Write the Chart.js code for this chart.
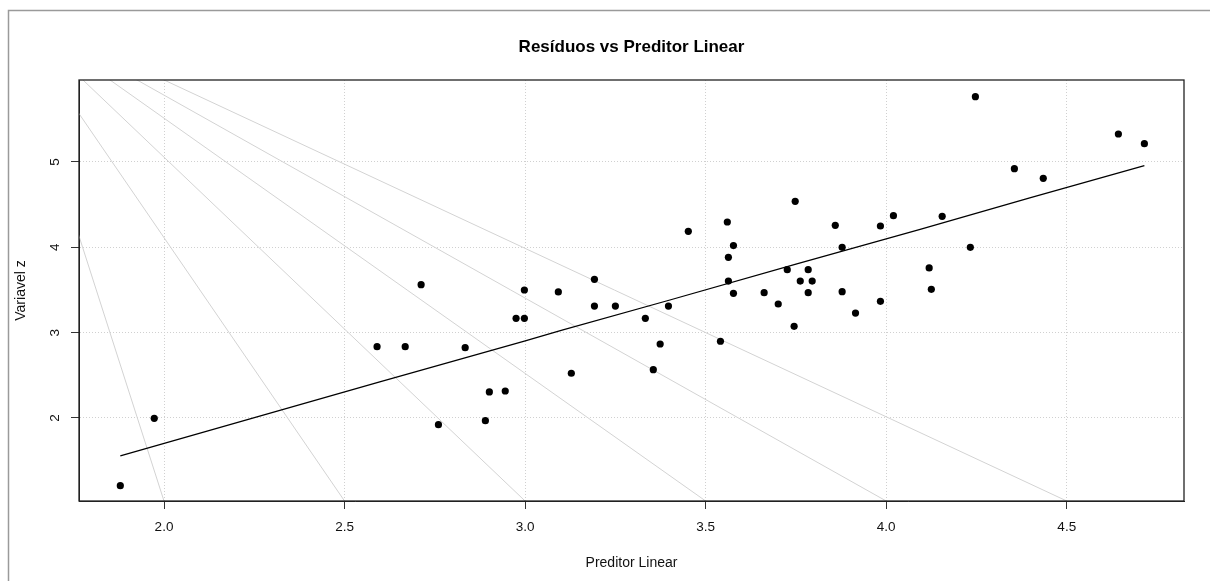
<!DOCTYPE html>
<html lang="pt">
<head>
<meta charset="utf-8">
<title>Resíduos vs Preditor Linear</title>
<script src="https://cdn.jsdelivr.net/npm/chart.js@4/dist/chart.umd.min.js"></script>
<style>
    html, body { margin: 0; padding: 0; background: #fff; }
    canvas { display: block; }
</style>
</head>
<body>
<canvas id="chart" width="1210" height="581"></canvas>
<script>
// ── Dados ──────────────────────────────────────────────────────────────────

// Preditor linear (eixo x) e variável z (eixo y) de cada observação.
const preditor = [
    1.879, 1.973, 2.590, 2.668, 2.712, 2.760, 2.834, 2.890, 2.901, 2.945,
    2.975, 2.998, 2.998, 3.092, 3.128, 3.192, 3.192, 3.250, 3.333, 3.355,
    3.374, 3.397, 3.452, 3.541, 3.560, 3.563, 3.563, 3.577, 3.577, 3.662,
    3.701, 3.726, 3.745, 3.748, 3.762, 3.784, 3.784, 3.795, 3.859, 3.878,
    3.878, 3.915, 3.984, 3.984, 4.020, 4.119, 4.125, 4.155, 4.233, 4.247,
    4.355, 4.435, 4.643, 4.715,
];
const variavelZ = [
    1.207, 1.996, 2.836, 2.836, 3.562, 1.922, 2.824, 1.968, 2.305, 2.316,
    3.168, 3.168, 3.500, 3.477, 2.524, 3.625, 3.312, 3.312, 3.168, 2.566,
    2.867, 3.312, 4.188, 2.899, 4.297, 3.883, 3.605, 4.020, 3.461, 3.469,
    3.336, 3.738, 3.074, 4.539, 3.605, 3.738, 3.469, 3.605, 4.258, 4.000,
    3.480, 3.230, 4.250, 3.367, 4.371, 3.758, 3.508, 4.363, 4.000, 5.766,
    4.922, 4.809, 5.328, 5.215,
];

// Curva ajustada (preta).
const ajusteX = [1.879, 2.595, 2.998, 3.100, 3.401, 3.750, 4.094, 4.400, 4.715];
const ajusteY = [1.555, 2.420, 2.900, 3.026, 3.383, 3.803, 4.211, 4.583, 4.957];

// Retas cinzas: todas saem do mesmo ponto e descem até a base do gráfico.
const origemRetas = { x: 1.56, y: 6.83 };
const baseRetas = [2.0, 2.5, 3.0, 3.5, 4.0, 4.5];

// Limites dos eixos (par("usr") do R).
const limX = [1.7646, 4.8247];
const limY = [1.027, 5.961];

// ── Gráfico ────────────────────────────────────────────────────────────────

const fonte = '"Liberation Sans", Arial, Helvetica, sans-serif';

const pontos = preditor.map((x, i) => ({ x, y: variavelZ[i] }));
const ajuste = ajusteX.map((x, i) => ({ x, y: ajusteY[i] }));
const retas = baseRetas.map((b) => ({
    data: [origemRetas, { x: b, y: limY[0] }],
    showLine: true,
    borderColor: '#d3d3d3',
    borderWidth: 1,
    pointRadius: 0,
}));

// Moldura externa cinza + caixa do gráfico (box() do R).
const moldura = {
    id: 'moldura',
    beforeDraw(chart) {
        const ctx = chart.ctx;
        ctx.save();
        ctx.strokeStyle = '#9a9a9a';
        ctx.lineWidth = 1.5;
        ctx.strokeRect(8.5, 10.5, 1300, 700);
        ctx.restore();
    },
    afterDraw(chart) {
        const { left, top, right, bottom } = chart.chartArea;
        const ctx = chart.ctx;
        ctx.save();
        ctx.strokeStyle = '#222';
        ctx.lineWidth = 1.3;
        ctx.strokeRect(left, top, right - left, bottom - top);
        ctx.restore();
    },
};

new Chart(document.getElementById('chart'), {
    type: 'scatter',
    data: {
        datasets: [
            { label: 'observações', data: pontos, backgroundColor: '#000', borderWidth: 0, pointRadius: 3.6 },
            { label: 'ajuste', data: ajuste, showLine: true, borderColor: '#000', borderWidth: 1.2, pointRadius: 0, tension: 0 },
            ...retas,
        ],
    },
    options: {
        responsive: false,
        devicePixelRatio: 1,
        animation: false,
        layout: { padding: { left: 0, right: 26, top: 0, bottom: 0 } },
        plugins: {
            legend: { display: false },
            tooltip: { enabled: false },
            title: {
                display: true,
                text: 'Resíduos vs Preditor Linear',
                fullSize: false,
                color: '#000',
                font: { family: fonte, size: 17, weight: 'bold', lineHeight: 1.2 },
                padding: { top: 36.8, bottom: 22.8 },
            },
        },
        scales: {
            x: {
                type: 'linear',
                min: limX[0], max: limX[1],
                afterFit: (s) => { s.height = 80; },
                ticks: {
                    stepSize: 0.5, includeBounds: false, padding: 10,
                    color: '#111', font: { family: fonte, size: 13.5 },
                    callback: (v) => Number(v).toFixed(1),
                },
                grid: { color: '#d0d0d0', lineWidth: 1, tickLength: 8, tickColor: '#333', tickBorderDash: [] },
                border: { display: true, color: '#222', width: 1, dash: [1, 2] },
                title: {
                    display: true, text: 'Preditor Linear', color: '#111',
                    font: { family: fonte, size: 14, lineHeight: 1.2 },
                    padding: { top: 0, bottom: 9.6 },
                },
            },
            y: {
                type: 'linear',
                min: limY[0], max: limY[1],
                afterFit: (s) => { s.width = 79; },
                ticks: {
                    stepSize: 1, includeBounds: false, padding: 12.2,
                    minRotation: 90, maxRotation: 90, crossAlign: 'center',
                    color: '#111', font: { family: fonte, size: 13.5 },
                    callback: (v) => String(v),
                },
                grid: { color: '#d0d0d0', lineWidth: 1, tickLength: 8, tickColor: '#333', tickBorderDash: [] },
                border: { display: true, color: '#222', width: 1, dash: [1, 2] },
                title: {
                    display: true, text: 'Variavel z', color: '#111',
                    font: { family: fonte, size: 14, lineHeight: 1.2 },
                    padding: { top: 12.6, bottom: 0 },
                },
            },
        },
    },
    plugins: [moldura],
});
</script>
</body>
</html>
